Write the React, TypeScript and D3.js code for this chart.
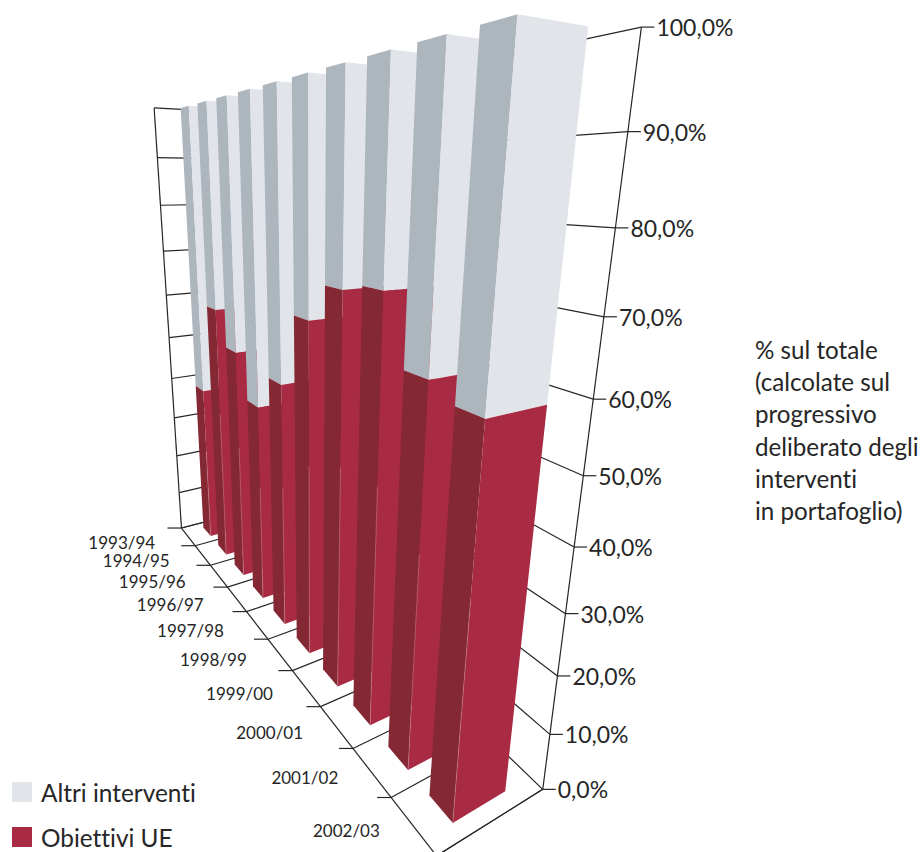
import React from "react";
import * as d3 from "d3";

const categories = ["1993/94","1994/95","1995/96","1996/97","1997/98","1998/99","1999/00","2000/01","2001/02","2002/03"];
const obiettiviUE = [38.1, 58.9, 51.7, 42.9, 50.2, 63.6, 69.9, 71.1, 61.4, 59.4];
const altriInterventi = [61.9, 41.1, 48.3, 57.1, 49.8, 36.4, 30.1, 28.9, 38.6, 40.6];
const valueTicks = [0,10,20,30,40,50,60,70,80,90,100];
const valueLabels = ["0,0%","10,0%","20,0%","30,0%","40,0%","50,0%","60,0%","70,0%","80,0%","90,0%","100,0%"];
const noteLines = ["% sul totale","(calcolate sul","progressivo","deliberato degli","interventi","in portafoglio)"];
const legendItems = ["Altri interventi","Obiettivi UE"];

const FONT = "Lato, 'Noto Sans', sans-serif";
const INK = "#262626";
const GRAY_LIGHT = "#e1e5ea", GRAY_DARK = "#adb5bd", RED_LIGHT = "#a92a43", RED_DARK = "#842834";

// projective camera fitted to the reference's axes: depth d, width e, height h, each 0..1
const CAM_X = [42.51687, 85.03101, -53.73062, 181.46279];
const CAM_Y = [-88.91075, 10.29352, -438.63325, 528.02951];
const CAM_W = [-0.48692, 0.05626, -0.17133, 1];
const dot = (m: number[], d: number, e: number, h: number) => m[0] * d + m[1] * e + m[2] * h + m[3];
function project(d: number, e: number, h: number): [number, number] {
  const w = dot(CAM_W, d, e, h);
  return [dot(CAM_X, d, e, h) / w, dot(CAM_Y, d, e, h) / w];
}

const dBand = d3.scaleBand<string>().domain(categories).range([0, 1]).paddingInner(0.5).paddingOuter(0.25);
const dStep = d3.scaleLinear().domain([0, categories.length]).range([0, 1]);
const hScale = d3.scaleLinear().domain([0, 100]).range([0, 1]);
const E0 = 0.25, E1 = 0.75;
const line = d3.line();
const poly = (pts: [number, number][]) => line(pts) + "Z";

export default function App() {
  const walls: string[] = [];
  valueTicks.forEach((t) => {
    const h = hScale(t);
    walls.push(line([project(0, 0, h), project(0, 1, h)])!);
    walls.push(line([project(1, 1, h), project(0, 1, h)])!);
  });
  d3.range(categories.length + 1).forEach((i) => {
    const d = dStep(i);
    walls.push(line([project(d, 0, 0), project(d, 1, 0)])!);
  });
  const axes = [
    line([project(0, 0, 0), project(0, 0, 1)])!,
    line([project(0, 0, 0), project(1, 0, 0)])!,
    line([project(1, 0, 0), project(1, 1, 0)])!,
    line([project(1, 1, 0), project(1, 1, 1)])!,
  ];
  const leftTicks = d3.range(categories.length + 1).map((i) => project(dStep(i), 0, 0));
  const rightTicks = valueTicks.map((t) => project(1, 1, hScale(t)));

  return (
    <svg width={920} height={852} style={{ position: "absolute", left: 0, top: 0 }}>
      <rect width={920} height={852} fill="#fff" />
      <g fill="none" stroke={INK} strokeWidth={1.2}>
        {walls.map((p, i) => <path key={i} d={p} />)}
        {axes.map((p, i) => <path key={i} d={p} />)}
        {leftTicks.map((p, i) => <path key={i} d={line([[p[0] - 14, p[1]], p])!} />)}
        {rightTicks.map((p, i) => <path key={i} d={line([p, [p[0] + 13, p[1]]])!} />)}
      </g>
      {categories.map((c, i) => {
        const d0 = dBand(c)!, d1 = d0 + dBand.bandwidth();
        const split = hScale(obiettiviUE[i]);
        const top = hScale(obiettiviUE[i] + altriInterventi[i]);
        const seg = (h0: number, h1: number, dark: string, light: string) => (
          <g>
            <path d={poly([project(d0, E0, h0), project(d1, E0, h0), project(d1, E0, h1), project(d0, E0, h1)])} fill={dark} />
            <path d={poly([project(d1, E0, h0), project(d1, E1, h0), project(d1, E1, h1), project(d1, E0, h1)])} fill={light} />
          </g>
        );
        return (
          <g key={c}>
            {seg(split, top, GRAY_DARK, GRAY_LIGHT)}
            {seg(0, split, RED_DARK, RED_LIGHT)}
            <path d={line([project(d1, E0, 0), project(d1, E0, split * 0.6)])!} stroke="#c98a97" strokeWidth={0.5} fill="none" />
          </g>
        );
      })}
      <g fontFamily={FONT} fill={INK} style={{ fontVariantLigatures: "none" }}>
        {categories.map((c) => {
          const [x, y] = project(dBand(c)! + dBand.bandwidth() / 2, 0, 0);
          return <text key={c} x={x - 33} y={y + 5.5} textAnchor="end" dominantBaseline="central" fontSize={17}>{c}</text>;
        })}
        {rightTicks.map((p, i) => (
          <text key={i} x={p[0] + 15} y={p[1]} dominantBaseline="central" fontSize={23}>{valueLabels[i]}</text>
        ))}
        {noteLines.map((t, i) => (
          <text key={t} x={755} y={359 + i * 32.2} fontSize={24.2}>{t}</text>
        ))}
        {legendItems.map((t, i) => (
          <g key={t}>
            <rect x={12} y={782 + i * 45} width={20} height={20} fill={i === 0 ? GRAY_LIGHT : RED_LIGHT} />
            <text x={41} y={802 + i * 45} fontSize={24.4}>{t}</text>
          </g>
        ))}
      </g>
    </svg>
  );
}
